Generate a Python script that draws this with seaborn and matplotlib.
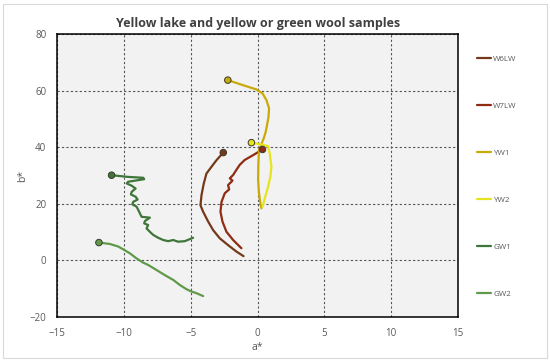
import numpy as np
import pandas as pd
import matplotlib
matplotlib.use("Agg")
import matplotlib.pyplot as plt
import seaborn as sns
from matplotlib.patches import Rectangle

# valores (a*, b*)
SERIES = ["W6LW", "W7LW", "YW1", "YW2", "GW1", "GW2"]

W6LW_A = [-2.57, -3.08, -3.45, -3.83, -4.03, -4.2, -4.28, -4.08, -3.7, -3.33, -2.83, -2.21, -1.58, -1.05]
W6LW_B = [38.1, 35.4, 33.1, 30.7, 27.2, 23.1, 19.5, 17.2, 13.7, 10.7, 7.8, 5.4, 3.1, 1.5]

W7LW_A = [0.37, -0.33, -0.96, -1.33, -1.6, -1.83, -2.08, -1.88, -2.21, -2.13, -2.46, -2.7, -2.78, -2.63, -2.33, -1.83, -1.21]
W7LW_B = [39.2, 37.2, 35.5, 33.8, 31.9, 30.2, 29.0, 28.2, 26.6, 25.1, 23.7, 20.7, 17.2, 13.7, 10.1, 7.2, 4.3]

YW1_A = [-2.23, -1.08, -0.08, 0.37, 0.67, 0.86, 0.82, 0.71, 0.61, 0.46, 0.29, 0.11, 0.06, 0.04, 0.11, 0.21, 0.29]
YW1_B = [63.7, 61.9, 60.4, 59.0, 56.6, 53.7, 50.7, 47.8, 45.4, 43.1, 41.1, 39.0, 34.3, 28.4, 23.7, 20.1, 18.4]

YW2_A = [-0.46, 0.11, 0.79, 0.91, 1.04, 0.96, 0.79, 0.54, 0.37]
YW2_B = [41.6, 41.1, 40.4, 37.8, 33.1, 29.6, 26.0, 21.9, 19.0]

GW1_A = [-10.94, -9.69, -8.57, -8.5, -9.69, -9.81, -9.44, -9.14, -9.44, -9.49, -9.14, -8.99, -9.32, -9.39,
         -9.07, -8.94, -8.69, -8.07, -8.44, -8.5, -8.2, -8.32, -8.07, -7.82, -7.45, -7.07, -6.7, -6.32,
         -5.95, -5.45, -4.83]
GW1_B = [30.1, 29.5, 29.2, 28.7, 27.8, 27.2, 26.4, 25.4, 24.2, 23.3, 22.5, 21.5, 20.7, 19.8,
         19.0, 17.8, 15.4, 15.1, 13.9, 13.1, 12.5, 11.3, 10.1, 9.0, 8.0, 7.2, 6.8, 7.2,
         6.6, 6.8, 8.0]

GW2_A = [-11.89, -11.06, -10.44, -10.07, -9.57, -9.07, -8.57, -8.2, -7.57, -6.95, -6.32, -5.82, -5.32, -4.95, -4.57, -4.08]
GW2_B = [6.3, 5.8, 4.9, 3.9, 2.5, 0.7, -0.8, -1.6, -3.4, -5.2, -6.9, -8.7, -10.2, -11.0, -11.6, -12.6]

CORES = {"W6LW": "#74391A", "W7LW": "#8E2B12", "YW1": "#C9AA08",
         "YW2": "#E6E41E", "GW1": "#3D7638", "GW2": "#5F9A49"}

dados = {"W6LW": (W6LW_A, W6LW_B), "W7LW": (W7LW_A, W7LW_B), "YW1": (YW1_A, YW1_B),
         "YW2": (YW2_A, YW2_B), "GW1": (GW1_A, GW1_B), "GW2": (GW2_A, GW2_B)}

linhas = []
for s in SERIES:
    a, b = dados[s]
    for i, (x, y) in enumerate(zip(a, b)):
        linhas.append({"amostra": s, "ordem": i, "a": x, "b": y})
df = pd.DataFrame(linhas)
inicio = df[df["ordem"] == 0]

sns.set_style("white")
plt.rcParams["font.family"] = ["Open Sans", "DejaVu Sans"]

fig = plt.figure(figsize=(5.5, 3.62), dpi=100)
ax = fig.add_axes([0.1044, 0.1243, 0.7278, 0.7818])
ax.set_facecolor("#F2F2F2")

sns.lineplot(data=df, x="a", y="b", hue="amostra", hue_order=SERIES, palette=CORES,
             sort=False, estimator=None, linewidth=1.6, ax=ax)
sns.scatterplot(data=inicio, x="a", y="b", hue="amostra", hue_order=SERIES, palette=CORES,
                s=22, edgecolor="#3A3A2A", linewidth=0.7, legend=False, ax=ax, zorder=5)

ax.set_xlim(-15, 15)
ax.set_ylim(-20, 80)
ax.set_xticks(range(-15, 16, 5))
ax.set_yticks(range(-20, 81, 20))
ax.tick_params(axis="both", length=0, labelsize=7, labelcolor="#595959")
ax.tick_params(axis="x", pad=8)
ax.tick_params(axis="y", pad=8)
ax.grid(True, color="#555555", linestyle=(0, (2, 2)), linewidth=0.8)
for sp in ax.spines.values():
    sp.set_color("black")
    sp.set_linewidth(1.1)

ax.set_xlabel("a*", fontsize=7.5, color="#595959", labelpad=2)
ax.set_ylabel("b*", fontsize=7.5, color="#595959", labelpad=1)
ax.set_title("Yellow lake and yellow or green wool samples", fontsize=9, fontweight="bold",
             color="#404040", pad=5)

h, l = ax.get_legend_handles_labels()
ax.legend(h, l, loc="upper left", bbox_to_anchor=(1.04, 0.935), frameon=False,
          fontsize=5.8, labelcolor="#595959", handlelength=1.8, handletextpad=0.2,
          labelspacing=4.88, borderaxespad=0)

fig.add_artist(Rectangle((0.005, 0.01), 0.99, 0.98, transform=fig.transFigure,
                         fill=False, edgecolor="#D9D9D9", linewidth=0.8))

fig.savefig("out.png", dpi=100)
